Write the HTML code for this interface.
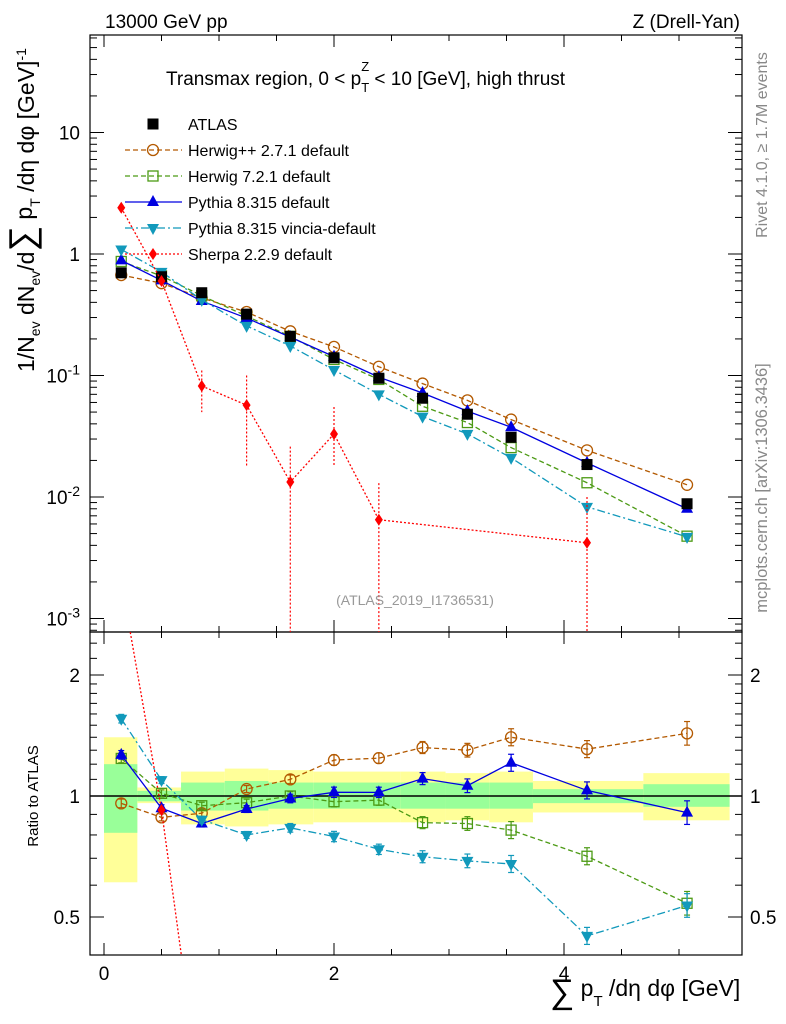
<!DOCTYPE html>
<html><head><meta charset="utf-8">
<style>
html,body{margin:0;background:#fff;overflow:hidden;width:786px;height:1024px;}
svg{display:block;font-family:"Liberation Sans",sans-serif;}
</style></head>
<body>
<svg id="c" width="786" height="1024" viewBox="0 0 786 1024"></svg>
<script>
const xcent=[0.15,0.5,0.85,1.24,1.62,2.0,2.39,2.77,3.16,3.54,4.2,5.07];
const edges=[0,0.29,0.67,1.05,1.43,1.82,2.2,2.58,2.97,3.35,3.73,4.69,5.44];
const atlas=[0.70,0.65,0.48,0.32,0.21,0.14,0.095,0.065,0.048,0.031,0.0185,0.0088];
const herwigpp=[0.671,0.575,0.435,0.333,0.231,0.172,0.118,0.0858,0.0624,0.0434,0.0242,0.0126];
const herwig7=[0.868,0.660,0.454,0.308,0.210,0.1355,0.0928,0.0558,0.041,0.0255,0.0131,0.00476];
const pythia=[0.886,0.606,0.410,0.297,0.207,0.143,0.097,0.0718,0.0509,0.0375,0.0191,0.0080];
const vincia=[1.09,0.712,0.419,0.256,0.175,0.111,0.070,0.0459,0.0331,0.021,0.0083,0.0047];
const mcErr=[0.025,0.02,0.02,0.02,0.025,0.03,0.03,0.035,0.04,0.05,0.05,0.07];
const sherpa=[2.4,0.6,0.082,0.057,0.0133,0.033,0.0065,null,null,null,0.0042,null];
const sherpaLo=[2.2,0.55,0.05,0.018,0.0005,0.018,0.0005,null,null,null,0.0005,null];
const sherpaHi=[2.6,0.66,0.11,0.1,0.026,0.055,0.013,null,null,null,0.01,null];
const yelUp=[1.40,1.05,1.15,1.17,1.16,1.15,1.15,1.15,1.14,1.15,1.09,1.14];
const yelDn=[0.61,0.96,0.85,0.84,0.85,0.86,0.86,0.86,0.87,0.86,0.91,0.87];
const grnUp=[1.20,1.03,1.08,1.09,1.08,1.08,1.08,1.08,1.08,1.08,1.04,1.07];
const grnDn=[0.81,0.97,0.92,0.92,0.93,0.93,0.93,0.93,0.93,0.93,0.96,0.94];
const mainTicks=["10","1","10^-1","10^-2","10^-3"];
const xTicks=[0,2,4];

const NS="http://www.w3.org/2000/svg";
const svg=document.getElementById('c');
function el(tag,attrs,parent){const e=document.createElementNS(NS,tag);for(const k in attrs)e.setAttribute(k,attrs[k]);(parent||svg).appendChild(e);return e;}
const L=90,R=742,T=35,MB=632,RB=955;
const X=v=>104+115*v;
const Y=v=>254-121.5*Math.log10(v);
const YR=r=>796-121*Math.log2(r);

const defs=el('defs',{});
const cp1=el('clipPath',{id:'cm'},defs);el('rect',{x:L,y:T,width:R-L,height:MB-T},cp1);
const cp2=el('clipPath',{id:'cr'},defs);el('rect',{x:L,y:MB,width:R-L,height:RB-MB},cp2);

const gb=el('g',{'clip-path':'url(#cr)'});


for(let i=0;i<xcent.length;i++){
  const r1=el('rect',{x:X(edges[i]),width:X(edges[i+1])-X(edges[i]),y:YR(yelUp[i]),height:YR(yelDn[i])-YR(yelUp[i]),fill:'#ffff99'},gb);
  
  
  const r2=el('rect',{x:X(edges[i]),width:X(edges[i+1])-X(edges[i]),y:YR(grnUp[i]),height:YR(grnDn[i])-YR(grnUp[i]),fill:'#99ff99'},gb);
  
  
}
el('line',{x1:L,x2:R,y1:YR(1),y2:YR(1),stroke:'#000','stroke-width':1.5});

el('rect',{x:L,y:T,width:R-L,height:MB-T,fill:'none',stroke:'#000','stroke-width':1.2});
el('rect',{x:L,y:MB,width:R-L,height:RB-MB,fill:'none',stroke:'#000','stroke-width':1.2});

for(let v=0;v<=5.4;v+=0.5){
  const big=Math.abs(v-Math.round(v/2)*2)<1e-6;
  const len=big?12:6;
  el('line',{x1:X(v),x2:X(v),y1:MB,y2:MB-len,stroke:'#000'});
  el('line',{x1:X(v),x2:X(v),y1:T,y2:T+len,stroke:'#000'});
  el('line',{x1:X(v),x2:X(v),y1:RB,y2:RB-len,stroke:'#000'});
  el('line',{x1:X(v),x2:X(v),y1:MB,y2:MB+len,stroke:'#000'});
}
xTicks.forEach(v=>{const t=el('text',{x:X(v),y:980,'font-size':19,'text-anchor':'middle'});t.textContent=v;
 });

for(let d=-4;d<=2;d++){
  for(let m=1;m<10;m++){
    const v=m*Math.pow(10,d);const y=Y(v);
    if(y<T||y>MB)continue;
    const len=m===1?14:7;
    el('line',{x1:L,x2:L+len,y1:y,y2:y,stroke:'#000'});
    el('line',{x1:R,x2:R-len,y1:y,y2:y,stroke:'#000'});
  }
}
mainTicks.forEach((s,i)=>{
  const y=Y(Math.pow(10,1-i))+7;
  const t=el('text',{x:80,y:y,'font-size':19,'text-anchor':'end'});
  
  if(s.includes('^')){const [b,e]=s.split('^');t.textContent=b;const ts=el('tspan',{dy:-8,'font-size':14},t);ts.textContent=e;}
  else t.textContent=s;
});
[0.4,0.5,0.6,0.7,0.8,0.9,1,1.1,1.2,1.3,1.4,1.5,1.6,1.7,1.8,1.9,2,2.2,2.4].forEach(r=>{
  const y=YR(r);if(y<MB||y>RB)return;
  const big=(r===0.5||r===1||r===2);const len=big?14:7;
  el('line',{x1:L,x2:L+len,y1:y,y2:y,stroke:'#000'});
  el('line',{x1:R,x2:R-len,y1:y,y2:y,stroke:'#000'});
});
[[2,'2'],[1,'1'],[0.5,'0.5']].forEach(([r,s])=>{
  const a=el('text',{x:80,y:YR(r)+7,'font-size':19,'text-anchor':'end'});a.textContent=s;
  
  const b=el('text',{x:750,y:YR(r)+7,'font-size':19}); b.textContent=s;
  
});

function marker(g,type,x,y,col){
  if(type==='sq') el('rect',{x:x-5.5,y:y-5.5,width:11,height:11,fill:col},g);
  else if(type==='circ') el('circle',{cx:x,cy:y,r:5.5,fill:'none',stroke:col,'stroke-width':1.3},g);
  else if(type==='osq') el('rect',{x:x-5,y:y-5,width:10,height:10,fill:'none',stroke:col,'stroke-width':1.3},g);
  else if(type==='tri') el('polygon',{points:`${x},${y-7} ${x-6},${y+4} ${x+6},${y+4}`,fill:col},g);
  else if(type==='itri') el('polygon',{points:`${x},${y+7} ${x-6},${y-4} ${x+6},${y-4}`,fill:col},g);
  else if(type==='dia') el('polygon',{points:`${x},${y-6} ${x-4},${y} ${x},${y+6} ${x+4},${y}`,fill:col},g);
}
const series=[
 {name:'herwigpp',data:herwigpp,col:'#b35900',m:'circ',dash:'5,3'},
 {name:'herwig7',data:herwig7,col:'#4c9a14',m:'osq',dash:'5,3'},
 {name:'pythia',data:pythia,col:'#0000e0',m:'tri',dash:''},
 {name:'vincia',data:vincia,col:'#1199bb',m:'itri',dash:'8,3,2,3'},
];
series.forEach(s=>{
  const g=el('g',{'clip-path':'url(#cm)'});
  
  el('polyline',{points:s.data.map((v,i)=>X(xcent[i])+','+Y(v)).join(' '),fill:'none',stroke:s.col,'stroke-width':1.3,'stroke-dasharray':s.dash},g);
  s.data.forEach((v,i)=>marker(g,s.m,X(xcent[i]),Y(v),s.col));
  const gr=el('g',{'clip-path':'url(#cr)'});
  
  const rat=s.data.map((v,i)=>v/atlas[i]);
  el('polyline',{points:rat.map((r,i)=>X(xcent[i])+','+YR(r)).join(' '),fill:'none',stroke:s.col,'stroke-width':1.3,'stroke-dasharray':s.dash},gr);
  rat.forEach((r,i)=>{
    const e=mcErr[i];
    el('line',{x1:X(xcent[i]),x2:X(xcent[i]),y1:YR(r*(1+e)),y2:YR(r/(1+e)),stroke:s.col,'stroke-width':1.2},gr);
    el('line',{x1:X(xcent[i])-3,x2:X(xcent[i])+3,y1:YR(r*(1+e)),y2:YR(r*(1+e)),stroke:s.col,'stroke-width':1.2},gr);
    el('line',{x1:X(xcent[i])-3,x2:X(xcent[i])+3,y1:YR(r/(1+e)),y2:YR(r/(1+e)),stroke:s.col,'stroke-width':1.2},gr);
    marker(gr,s.m,X(xcent[i]),YR(r),s.col);
  });
});
const ga=el('g',{});

atlas.forEach((v,i)=>marker(ga,'sq',X(xcent[i]),Y(v),'#000'));
const gs=el('g',{'clip-path':'url(#cm)'});

const sp=[];sherpa.forEach((v,i)=>{if(v!==null)sp.push(X(xcent[i])+','+Y(v));});
el('polyline',{points:sp.join(' '),fill:'none',stroke:'#ff0000','stroke-width':1.3,'stroke-dasharray':'2,2'},gs);
sherpa.forEach((v,i)=>{if(v===null)return;
  el('line',{x1:X(xcent[i]),x2:X(xcent[i]),y1:Y(sherpaHi[i]),y2:Y(sherpaLo[i]),stroke:'#ff0000','stroke-width':1.2,'stroke-dasharray':'2,2'},gs);
  marker(gs,'dia',X(xcent[i]),Y(v),'#ff0000');});
const gsr=el('g',{'clip-path':'url(#cr)'});

const srp=[];sherpa.forEach((v,i)=>{if(v!==null&&i<3)srp.push(X(xcent[i])+','+YR(v/atlas[i]));});
el('polyline',{points:srp.join(' '),fill:'none',stroke:'#ff0000','stroke-width':1.3,'stroke-dasharray':'2,2'},gsr);
marker(gsr,'dia',X(xcent[1]),YR(sherpa[1]/atlas[1]),'#ff0000');

const leg=[['ATLAS','sq','#000',''],['Herwig++ 2.7.1 default','circ','#b35900','5,3'],['Herwig 7.2.1 default','osq','#4c9a14','5,3'],
['Pythia 8.315 default','tri','#0000e0',''],['Pythia 8.315 vincia-default','itri','#1199bb','8,3,2,3'],['Sherpa 2.2.9 default','dia','#ff0000','2,2']];
leg.forEach((l,i)=>{
  const y=124+26*i;
  const g=el('g',{});
  
  if(i>0) el('line',{x1:125,x2:182,y1:y,y2:y,stroke:l[2],'stroke-width':1.3,'stroke-dasharray':l[3]},g);
  marker(g,l[1],153,y,l[2]);
  const t=el('text',{x:188,y:y+6,'font-size':16},g);t.textContent=l[0];
});

function txt(x,y,s,size,attrs,name){const t=el('text',Object.assign({x:x,y:y,'font-size':size},attrs||{}));t.textContent=s;
 return t;}
txt(105,28,'13000 GeV pp',19,{},'energy-label');
txt(740,28,'Z (Drell-Yan)',19,{'text-anchor':'end'},'process-label');
const ti=txt(166,85,'Transmax region, 0 < p',19,{},'plot-title');
const a1=el('tspan',{dy:7,'font-size':13},ti);a1.textContent='T';
const a2=el('tspan',{dy:-7,'font-size':19},ti);a2.textContent=' < 10 [GeV], high thrust';
let zx=298;
try{zx=a1.getStartPositionOfChar(0).x;}catch(e){}
txt(zx,71,'Z',13,{},'title-z');
txt(415,605,'(ATLAS_2019_I1736531)',14,{'text-anchor':'middle',fill:'#999'},'analysis-watermark');
txt(0,0,'Rivet 4.1.0, ≥ 1.7M events',16,{transform:'translate(767,145) rotate(-90)','text-anchor':'middle',fill:'#888'},'rivet-label');
txt(0,0,'mcplots.cern.ch [arXiv:1306.3436]',16.5,{transform:'translate(767,488) rotate(-90)','text-anchor':'middle',fill:'#888'},'mcplots-label');
txt(0,0,'Ratio to ATLAS',15,{transform:'translate(38,796) rotate(-90)','text-anchor':'middle'},'ratio-axis-title');
const yt=txt(0,0,'1/N',23,{transform:'translate(34,372) rotate(-90)'},'y-axis-title');
[['ev',6,14],[' dN',-6,23],['ev',6,14],['/d',-6,23],['∑',0,36],[' p',-2,23],['T',8,14],[' /dη dφ  [GeV]',-6,23],['-1',-8,14]].forEach(([s,dy,fs])=>{const ts=el('tspan',{dy:dy,'font-size':fs},yt);ts.textContent=s;});
const xt=txt(550,1003,'∑',34,{},'x-axis-title');
const b1=el('tspan',{'font-size':23,dy:-7},xt);b1.textContent=' p';
const b2=el('tspan',{'font-size':15,dy:10},xt);b2.textContent='T';
const b3=el('tspan',{'font-size':23,dy:-10},xt);b3.textContent=' /dη dφ [GeV]';
</script>
</body></html>
